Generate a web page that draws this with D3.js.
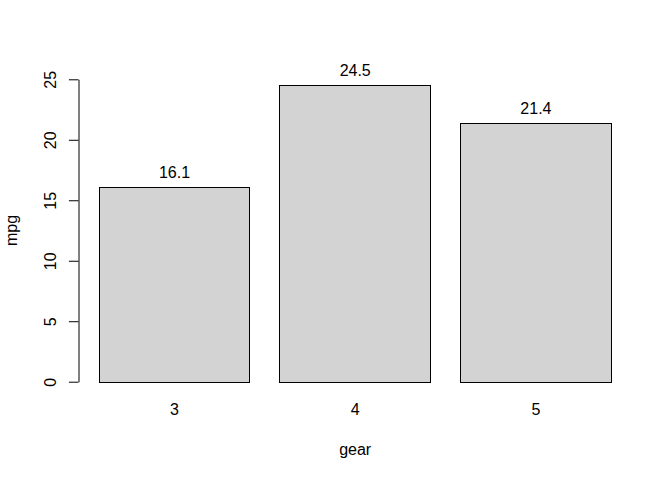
<!DOCTYPE html>
<html>
<head>
<meta charset="utf-8">
<script src="https://cdn.jsdelivr.net/npm/d3@7"></script>
<style>
body { margin: 0; background: #fff; }
svg text { font-family: "Liberation Sans", Arial, sans-serif; font-size: 16px; fill: #000; }
.bar { fill: #d3d3d3; stroke: #000; stroke-width: 1; }
.axis path, .axis line { stroke: #000; }
</style>
</head>
<body>
<div id="chart"></div>
<script>
var gears = ["3", "4", "5"];
var mpg = [16.1, 24.5, 21.4];
var yTicks = [0, 5, 10, 15, 20, 25];

var W = 672, H = 480;
// plot region, R default margins
var plotL = 78.7, plotR = 631.7, plotT = 78.7, plotB = 382.1;

var svg = d3.select("#chart").append("svg")
    .attr("width", W)
    .attr("height", H);

// barplot: width 1, space 0.2, xlim extended 4%
var xlo = 0.2, xhi = gears.length * 1.2;
var ext = (xhi - xlo) * 0.04;
var x = d3.scaleLinear().domain([xlo - ext, xhi + ext]).range([plotL, plotR]);
var y = d3.scaleLinear().domain([0, 25]).range([381.7, 79.3]);

var bars = svg.append("g");
bars.selectAll("rect")
    .data(mpg)
    .enter().append("rect")
    .attr("class", "bar")
    .attr("x", function (d, i) { return Math.floor(x(0.2 + i * 1.2)) + 0.5; })
    .attr("width", function (d, i) { return Math.floor(x(1.2 + i * 1.2)) - Math.floor(x(0.2 + i * 1.2)); })
    .attr("y", function (d) { return Math.round(y(d)) + 0.5; })
    .attr("height", function (d) { return Math.round(y(0)) - Math.round(y(d)); });

// value labels
svg.append("g").selectAll("text")
    .data(mpg)
    .enter().append("text")
    .attr("x", function (d, i) { return x(0.7 + i * 1.2); })
    .attr("y", function (d) { return y(d) - 9; })
    .attr("text-anchor", "middle")
    .text(function (d) { return d.toFixed(1); });

// category names under bars
svg.append("g").selectAll("text")
    .data(gears)
    .enter().append("text")
    .attr("x", function (d, i) { return x(0.7 + i * 1.2); })
    .attr("y", 414.5)
    .attr("text-anchor", "middle")
    .text(function (d) { return d; });

// y axis
var yAxis = d3.axisLeft(y)
    .tickValues(yTicks)
    .tickSize(9.6)
    .tickSizeOuter(0)
    .tickFormat(d3.format("d"));

var ag = svg.append("g")
    .attr("class", "axis")
    .attr("transform", "translate(" + (Math.round(plotL) - 0.5) + ",0)")
    .call(yAxis);

ag.selectAll("text")
    .attr("x", null)
    .attr("dy", null)
    .attr("text-anchor", "middle")
    .attr("transform", "translate(-23,0) rotate(-90)");
ag.attr("font-family", null).attr("font-size", null);

// axis titles
svg.append("text")
    .attr("x", (plotL + plotR) / 2)
    .attr("y", 455)
    .attr("text-anchor", "middle")
    .text("gear");

svg.append("text")
    .attr("transform", "translate(17.3," + (plotT + plotB) / 2 + ") rotate(-90)")
    .attr("text-anchor", "middle")
    .text("mpg");
</script>
</body>
</html>
